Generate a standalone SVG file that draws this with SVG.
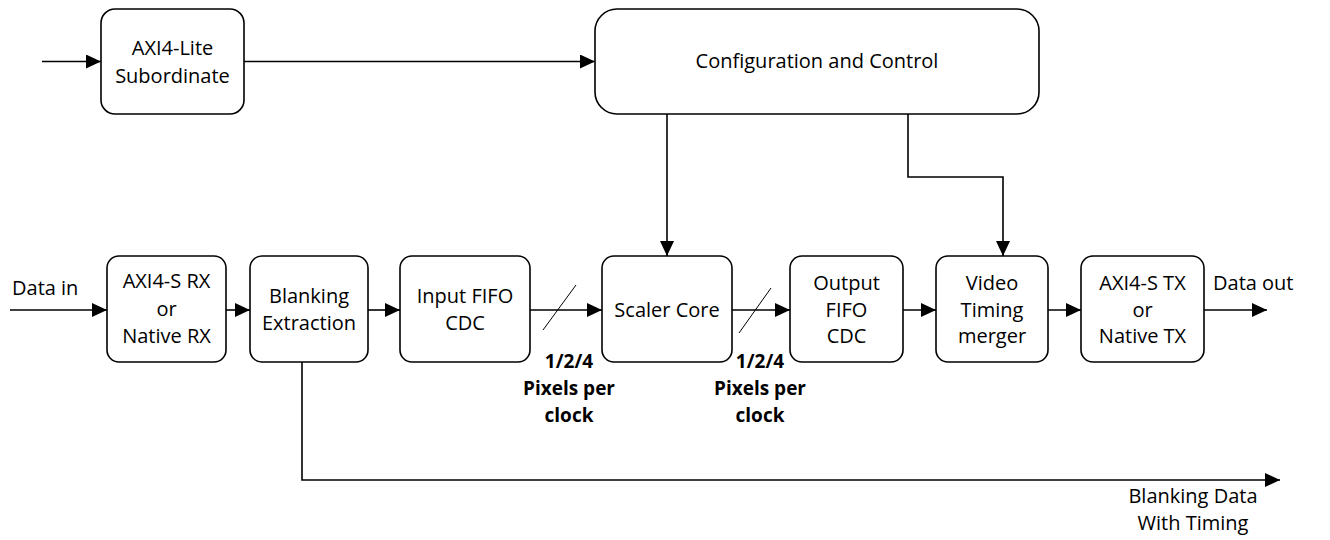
<svg xmlns="http://www.w3.org/2000/svg" width="1330" height="540" viewBox="0 0 1330 540">
  <defs>
    <marker id="arrow" markerUnits="userSpaceOnUse" markerWidth="16" markerHeight="16" refX="15" refY="7" orient="auto">
      <path d="M0,0 L15,7 L0,14 z" fill="#000"/>
    </marker>
    <style>
      .box { fill: #fff; stroke: #000; stroke-width: 1.6; }
      .wire { fill: none; stroke: #000; stroke-width: 1.6; }
      .thin { stroke-width: 1; }
      .arr { marker-end: url(#arrow); }
      .lbl { font-family: "Open Sans", "Liberation Sans", sans-serif; font-size: 20px; fill: #000; text-anchor: middle; }
      .bold { font-weight: bold; font-size: 19px; }
      .start { text-anchor: start; }
    </style>
  </defs>
  <rect width="1330" height="540" fill="#fff"/>

  <!-- connectors -->
  <g id="connectors">
    <line class="wire arr" x1="42" y1="61.5" x2="101" y2="61.5"/>
    <line class="wire arr" x1="244" y1="61.5" x2="595" y2="61.5"/>
    <line class="wire arr" x1="667" y1="114" x2="667" y2="256"/>
    <polyline class="wire arr" points="908,114 908,177 1003,177 1003,256"/>
    <line class="wire arr" x1="10" y1="310" x2="107" y2="310"/>
    <line class="wire arr" x1="226" y1="310" x2="250" y2="310"/>
    <line class="wire arr" x1="368" y1="310" x2="400" y2="310"/>
    <line class="wire arr" x1="530" y1="310" x2="602" y2="310"/>
    <line class="wire arr" x1="732" y1="310" x2="790" y2="310"/>
    <line class="wire arr" x1="903" y1="310" x2="936" y2="310"/>
    <line class="wire arr" x1="1048" y1="310" x2="1081" y2="310"/>
    <line class="wire arr" x1="1204" y1="310" x2="1267" y2="310"/>
    <polyline class="wire arr" points="302,362 302,480 1280,480"/>
    <!-- bus-width slashes -->
    <line class="wire thin" x1="543" y1="330" x2="576" y2="285"/>
    <line class="wire thin" x1="739" y1="333" x2="771" y2="288"/>
  </g>

  <g id="axi4-lite">
    <rect class="box" x="101" y="9" width="143" height="105" rx="14"/>
    <text class="lbl" x="172.5" y="55">AXI4-Lite</text>
    <text class="lbl" x="172.5" y="83">Subordinate</text>
  </g>

  <g id="config-control">
    <rect class="box" x="595" y="9" width="444" height="105" rx="22"/>
    <text class="lbl" x="817" y="68">Configuration and Control</text>
  </g>

  <g id="rx">
    <rect class="box" x="107" y="256" width="119" height="106" rx="12"/>
    <text class="lbl" x="166.5" y="288">AXI4-S RX</text>
    <text class="lbl" x="166.5" y="315.5">or</text>
    <text class="lbl" x="166.5" y="343">Native RX</text>
  </g>

  <g id="blanking-extraction">
    <rect class="box" x="250" y="256" width="118" height="106" rx="12"/>
    <text class="lbl" x="309" y="303">Blanking</text>
    <text class="lbl" x="309" y="330">Extraction</text>
  </g>

  <g id="input-fifo">
    <rect class="box" x="400" y="256" width="130" height="106" rx="12"/>
    <text class="lbl" x="465" y="303">Input FIFO</text>
    <text class="lbl" x="465" y="330">CDC</text>
  </g>

  <g id="scaler-core">
    <rect class="box" x="602" y="256" width="130" height="106" rx="12"/>
    <text class="lbl" x="667" y="317">Scaler Core</text>
  </g>

  <g id="output-fifo">
    <rect class="box" x="790" y="256" width="113" height="106" rx="12"/>
    <text class="lbl" x="846.5" y="290">Output</text>
    <text class="lbl" x="846.5" y="317">FIFO</text>
    <text class="lbl" x="846.5" y="343">CDC</text>
  </g>

  <g id="video-timing-merger">
    <rect class="box" x="936" y="256" width="112" height="106" rx="12"/>
    <text class="lbl" x="992" y="290">Video</text>
    <text class="lbl" x="992" y="317">Timing</text>
    <text class="lbl" x="992" y="343">merger</text>
  </g>

  <g id="tx">
    <rect class="box" x="1081" y="256" width="123" height="106" rx="12"/>
    <text class="lbl" x="1142.5" y="290">AXI4-S TX</text>
    <text class="lbl" x="1142.5" y="317">or</text>
    <text class="lbl" x="1142.5" y="343">Native TX</text>
  </g>

  <!-- free labels -->
  <g id="labels">
    <text class="lbl start" x="12" y="295">Data in</text>
    <text class="lbl start" x="1213" y="290">Data out</text>
    <text class="lbl bold" x="569" y="368">1/2/4</text>
    <text class="lbl bold" x="569" y="395">Pixels per</text>
    <text class="lbl bold" x="569" y="422">clock</text>
    <text class="lbl bold" x="760" y="368">1/2/4</text>
    <text class="lbl bold" x="760" y="395">Pixels per</text>
    <text class="lbl bold" x="760" y="422">clock</text>
    <text class="lbl" x="1193" y="503">Blanking Data</text>
    <text class="lbl" x="1193" y="530">With Timing</text>
  </g>
</svg>
